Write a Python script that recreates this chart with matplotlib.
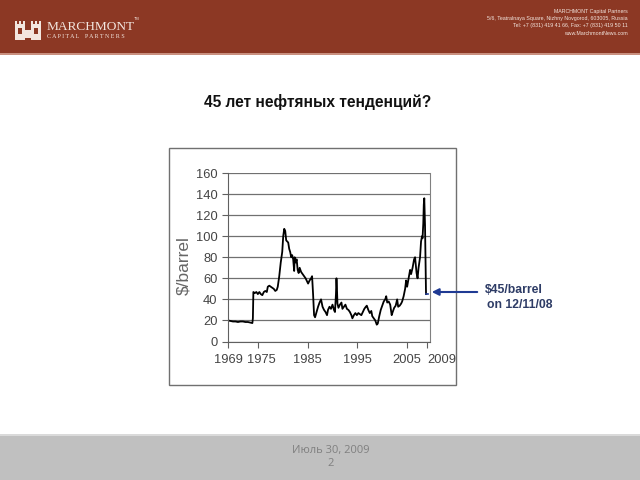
import matplotlib
matplotlib.use('Agg')
import matplotlib.pyplot as plt
from matplotlib.patches import Rectangle, FancyArrowPatch
from matplotlib.transforms import ScaledTranslation

plt.rcParams['font.family'] = ['Liberation Sans', 'DejaVu Sans']

# oil price, $/barrel
years = [1969.0, 1969.5, 1970.0, 1970.5, 1971.0, 1971.5, 1972.0, 1972.5, 1973.0, 1973.5,
         1973.9, 1974.0, 1974.1, 1974.4, 1974.7, 1975.0, 1975.3, 1975.6, 1975.9, 1976.2,
         1976.5, 1976.8, 1977.0, 1977.3, 1977.6, 1977.9, 1978.2, 1978.5, 1978.8, 1979.0,
         1979.3, 1979.6, 1979.9, 1980.1, 1980.3, 1980.5, 1980.7, 1980.9, 1981.1, 1981.3,
         1981.5, 1981.7, 1981.9, 1982.1, 1982.3, 1982.4, 1982.6, 1982.8, 1983.0, 1983.2,
         1983.4, 1983.7, 1984.0, 1984.3, 1984.6, 1984.9, 1985.1, 1985.4, 1985.7, 1985.9,
         1986.1, 1986.3, 1986.5, 1986.8, 1987.1, 1987.4, 1987.7, 1988.0, 1988.3, 1988.6,
         1988.9, 1989.1, 1989.4, 1989.7, 1990.0, 1990.3, 1990.5, 1990.7, 1990.8, 1990.9,
         1991.0, 1991.2, 1991.5, 1991.8, 1992.0, 1992.3, 1992.6, 1992.9, 1993.2, 1993.5,
         1993.8, 1994.0, 1994.3, 1994.6, 1994.9, 1995.2, 1995.5, 1995.8, 1996.1, 1996.4,
         1996.7, 1996.9, 1997.2, 1997.5, 1997.8, 1998.0, 1998.3, 1998.6, 1998.9, 1999.1,
         1999.4, 1999.7, 2000.0, 2000.3, 2000.6, 2000.8, 2001.0, 2001.3, 2001.6, 2001.9,
         2002.1, 2002.4, 2002.7, 2003.0, 2003.2, 2003.5, 2003.8, 2004.0, 2004.3, 2004.6,
         2004.8, 2005.0, 2005.3, 2005.6, 2005.8, 2006.1, 2006.4, 2006.6, 2006.9, 2007.1,
         2007.3, 2007.6, 2007.8, 2008.0, 2008.1, 2008.25, 2008.35, 2008.45, 2008.6, 2008.7,
         2008.8]
prices = [20, 19.5, 19, 19, 18.5, 19, 19, 18.5, 18.5, 18,
          17.5, 22, 47, 46, 47, 45, 47, 45, 44, 47,
          48, 47, 52, 53, 52, 51, 50, 48, 49, 52,
          62, 75, 85, 100, 107, 105, 96, 95, 94, 88,
          85, 80, 82, 78, 67, 80, 75, 78, 68, 65,
          70, 66, 64, 62, 60, 57, 55, 58, 60, 62,
          45, 25, 23, 28, 33, 37, 40, 33, 30, 28,
          25, 30, 33, 31, 35, 30, 28, 45, 60, 50,
          36, 32, 35, 37, 31, 33, 35, 31, 30, 28,
          25, 22, 25, 27, 25, 27, 26, 25, 28, 31,
          33, 34, 30, 27, 29, 24, 22, 20, 16, 17,
          24, 30, 34, 38, 40, 43, 37, 38, 35, 25,
          28, 32, 34, 40, 33, 34, 36, 38, 43, 50,
          58, 52, 60, 68, 64, 70, 78, 80, 65, 60,
          70, 80, 95, 100, 98, 112, 130, 136, 110, 80,
          45]
x_ticks = [1969, 1975, 1985, 1995, 2005, 2009]
y_ticks = [0, 20, 40, 60, 80, 100, 120, 140, 160]

W, H = 640, 480
fig = plt.figure(figsize=(6.4, 4.8), dpi=100)


def fx(px):
    return px / W


def fy(py):
    return 1 - py / H


def box(x0, y0, x1, y1, **kw):
    kw.setdefault('zorder', -1)
    fig.patches.append(Rectangle((fx(x0), fy(y1)), fx(x1) - fx(x0), fy(y0) - fy(y1),
                                 transform=fig.transFigure, **kw))


cream = '#f3e6df'
brown = '#8c3824'

# header bar
box(0, 0, 640, 54, facecolor=brown, edgecolor='none')
box(0, 53, 640, 55, facecolor='#c9907f', edgecolor='none')
# logo icon (two towers joined by a wall)
for tx in (15, 31):
    box(tx, 24, tx + 10, 40, facecolor=cream, edgecolor='none', zorder=0)
    for bx in (tx, tx + 4, tx + 8):
        box(bx, 21, bx + 2, 24, facecolor=cream, edgecolor='none', zorder=0)
    box(tx + 3, 28, tx + 7, 34, facecolor=brown, edgecolor='none', zorder=0.5)
box(25, 30, 31, 38, facecolor=cream, edgecolor='none', zorder=0)
fig.text(fx(47), fy(27), 'MARCHMONT', color=cream, fontsize=9.6,
         family='Liberation Serif', va='center', ha='left')
fig.text(fx(134), fy(19), 'TM', color=cream, fontsize=2.8, va='center', ha='left')
fig.text(fx(47), fy(37), 'C A P I T A L    P A R T N E R S', color=cream, fontsize=4.3,
         family='Liberation Serif', va='center', ha='left')
hdr = ['MARCHMONT Capital Partners',
       '5/6, Teatralnaya Square, Nizhny Novgorod, 603005, Russia',
       'Tel: +7 (831) 419 41 66, Fax: +7 (831) 419 50 11',
       'www.MarchmontNews.com']
for i, line in enumerate(hdr):
    fig.text(fx(628), fy(11 + i * 7.4), line, color=cream, fontsize=3.8,
             ha='right', va='center')

# footer bar
box(0, 435, 640, 480, facecolor='#c0c0c0', edgecolor='none')
box(0, 434, 640, 436, facecolor='#dadada', edgecolor='none')
fig.text(fx(331), fy(450), 'Июль 30, 2009', color='#808080', fontsize=8, ha='center', va='center',
         family=['Open Sans', 'DejaVu Sans'])
fig.text(fx(331), fy(464), '2', color='#808080', fontsize=8, ha='center', va='center',
         family=['Open Sans', 'DejaVu Sans'])

# title
fig.text(fx(318), fy(102), '45 лет нефтяных тенденций?', fontsize=11.2, fontweight='bold',
         ha='center', va='center', color='#111111')

# picture frame
box(169, 148, 456, 385, facecolor='white', edgecolor='#707070', linewidth=1)

ax = fig.add_axes([fx(228), fy(341.5), fx(430) - fx(228), fy(173) - fy(341.5)])
ax.patch.set_alpha(0)
ax.plot(years, prices, color='black', linewidth=1.3)
ax.plot([2008.8, 2009.2], [45, 45], color='#1f3a93', linewidth=1.2)
ax.set_xlim(1969, 2009.6)
ax.set_ylim(0, 160)
ax.set_xticks(x_ticks)
ax.set_yticks(y_ticks)
ax.yaxis.grid(True, color='#707070', linewidth=0.9)
ax.set_axisbelow(True)
ax.spines['top'].set_visible(False)
ax.spines['right'].set_color('#808080')
ax.spines['left'].set_color('#606060')
ax.spines['bottom'].set_color('#606060')
ax.tick_params(axis='both', colors='#606060', labelcolor='#444444', labelsize=9.3,
               length=4, direction='out')
ax.tick_params(axis='x', pad=5)
xlabels = ax.get_xticklabels()
xlabels[-1].set_horizontalalignment('left')
# nudge the 1975 label a little to the right, as in the picture
xlabels[1].set_transform(xlabels[1].get_transform() + ScaledTranslation(0.04, 0, fig.dpi_scale_trans))
ax.set_ylabel('$/barrel', fontsize=12.5, color='#666666')
ax.yaxis.set_label_coords(-0.18, 0.45)

# annotation
fig.patches.append(FancyArrowPatch(
    (fx(480), fy(292)), (fx(429), fy(292)), transform=fig.transFigure,
    arrowstyle='-|>', mutation_scale=10, color='#1f3a93', linewidth=1.5))
fig.text(fx(485), fy(290), '$45/barrel', fontsize=8.8, fontweight='bold', color='#2e3c66',
         ha='left', va='center')
fig.text(fx(487), fy(305), 'on 12/11/08', fontsize=8.8, fontweight='bold', color='#2e3c66',
         ha='left', va='center')

fig.savefig('out.png', dpi=100)
